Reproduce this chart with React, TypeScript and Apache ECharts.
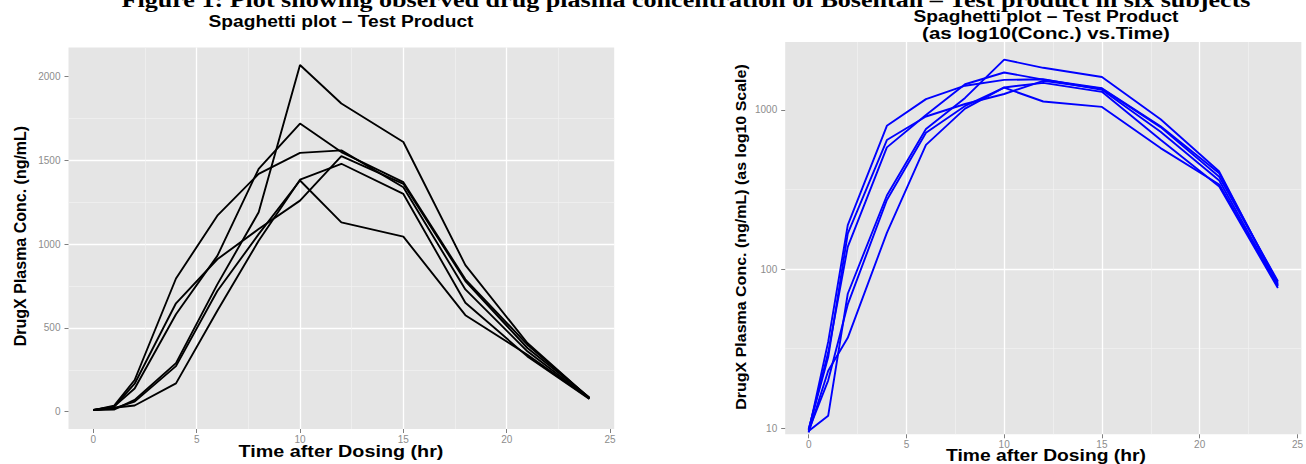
import React, { useEffect, useRef } from "react";
import * as echarts from "echarts";

// ---- Data ----
const times = [0, 1, 2, 4, 6, 8, 10, 12, 15, 18, 21, 24];
const subject1 = [9.6, 12, 70, 290, 760, 1190, 2070, 1840, 1610, 875, 410, 80];
const subject2 = [9.8, 30, 138, 582, 930, 1450, 1720, 1550, 1370, 790, 400, 82];
const subject3 = [9.5, 35, 189, 795, 1170, 1420, 1545, 1560, 1340, 730, 360, 79];
const subject4 = [9.4, 23, 37, 169, 603, 1020, 1385, 1480, 1300, 650, 330, 76];
const subject5 = [9.7, 20, 60, 272, 720, 1060, 1380, 1130, 1045, 576, 340, 78];
const subject6 = [9.9, 28, 167, 647, 910, 1090, 1260, 1525, 1360, 780, 380, 84];
const subjects = [subject1, subject2, subject3, subject4, subject5, subject6];

const xTicks = [0, 5, 10, 15, 20, 25];
const yTicksLinear = [0, 500, 1000, 1500, 2000];
const yTicksLog = [10, 100, 1000];

const captionText =
  "Figure 1: Plot showing observed drug plasma concentration of Bosentan \u2013 Test product in six subjects";
const plotTitle = "Spaghetti plot \u2013 Test Product";
const logSubtitle = "(as log10(Conc.) vs.Time)";
const xTitle = "Time after Dosing (hr)";
const yTitleLinear = "DrugX Plasma Conc. (ng/mL)";
const yTitleLog = "DrugX Plasma Conc. (ng/mL) (as log10 Scale)";

const SANS = "'Liberation Sans', Arial, Helvetica, sans-serif";
const SERIF = "'Liberation Serif', 'Times New Roman', serif";

function measure(text: string, font: string): number {
  const c = document.createElement("canvas").getContext("2d");
  if (!c) return 1;
  c.font = font;
  return c.measureText(text).width || 1;
}

function stretchedText(
  text: string,
  cx: number,
  cy: number,
  size: number,
  family: string,
  targetWidth: number | null,
  rotate = false
) {
  const font = `bold ${size}px ${family}`;
  const w = measure(text, font);
  const sx = targetWidth ? targetWidth / w : 1;
  return {
    type: "text",
    x: cx,
    y: cy,
    rotation: rotate ? Math.PI / 2 : 0,
    scaleX: rotate ? 1 : sx,
    scaleY: rotate ? sx : 1,
    silent: true,
    style: {
      text,
      font,
      fill: "#000000",
      align: "center",
      verticalAlign: "middle",
    },
  };
}

function axisCommon(ticks: number[], isX: boolean, formatter: (v: number) => string) {
  return {
    axisLine: { show: false, onZero: false },
    axisTick: {
      show: true,
      length: 4,
      customValues: ticks,
      lineStyle: { color: "#7F7F7F", width: 1 },
    },
    axisLabel: {
      customValues: ticks,
      color: "#8C8C8C",
      fontSize: 10,
      fontFamily: SANS,
      margin: isX ? 5 : 8,
      formatter,
    },
    splitLine: {
      show: true,
      showMinLine: false,
      showMaxLine: false,
      lineStyle: { color: "#FFFFFF", width: 1.3 },
    },
    minorTick: { show: false, splitNumber: 2 },
    minorSplitLine: { show: true, lineStyle: { color: "#F2F2F2", width: 0.7 } },
  };
}

export default function App() {
  const ref = useRef<HTMLDivElement>(null);

  useEffect(() => {
    if (!ref.current) return;
    const chart = echarts.init(ref.current, undefined, { renderer: "svg" });

    const logTicks = yTicksLog.map((v) => Math.log10(v));
    const plain = (v: number) => String(v);
    const pow10 = (v: number) => String(Math.round(Math.pow(10, v)));

    const option: any = {
      animation: false,
      backgroundColor: "#FFFFFF",
      grid: [
        {
          left: 68.5,
          top: 47.6,
          width: 545.7,
          height: 381.4,
          show: true,
          backgroundColor: "#E5E5E5",
          borderWidth: 0,
        },
        {
          left: 785.2,
          top: 42,
          width: 524,
          height: 392.3,
          show: true,
          backgroundColor: "#E5E5E5",
          borderWidth: 0,
        },
      ],
      xAxis: [
        { type: "value", gridIndex: 0, min: -1.2, max: 25.2, ...axisCommon(xTicks, true, plain) },
        { type: "value", gridIndex: 1, min: -1.2, max: 25.2, ...axisCommon(xTicks, true, plain) },
      ],
      yAxis: [
        {
          type: "value",
          gridIndex: 0,
          min: -103.5,
          max: 2173.5,
          ...axisCommon(yTicksLinear, false, plain),
        },
        {
          type: "value",
          gridIndex: 1,
          min: 0.962,
          max: 3.427,
          splitNumber: 2,
          ...axisCommon(logTicks, false, pow10),
        },
      ],
      series: [
        ...subjects.map((s, k) => ({
          type: "line",
          name: `Subject ${k + 1}`,
          xAxisIndex: 0,
          yAxisIndex: 0,
          data: times.map((t, i) => [t, s[i]]),
          symbol: "none",
          lineStyle: { color: "#000000", width: 1.9 },
          silent: true,
        })),
        ...subjects.map((s, k) => ({
          type: "line",
          name: `Subject ${k + 1} (log)`,
          xAxisIndex: 1,
          yAxisIndex: 1,
          data: times.map((t, i) => [t, Math.log10(s[i])]),
          symbol: "none",
          lineStyle: { color: "#0000FF", width: 1.9 },
          silent: true,
        })),
      ],
      graphic: [
        stretchedText(captionText, 686, -1, 22, SERIF, 1130),
        stretchedText(plotTitle, 341, 22, 16, SANS, 265),
        stretchedText(plotTitle, 1046, 17, 16, SANS, 265),
        stretchedText(logSubtitle, 1046, 33, 16, SANS, 248),
        stretchedText(xTitle, 341, 452, 16, SANS, 205),
        stretchedText(xTitle, 1046, 456, 16, SANS, 200),
        stretchedText(yTitleLinear, 21, 236, 16, SANS, 218, true),
        stretchedText(yTitleLog, 741, 237, 16, SANS, 327, true),
      ],
    };

    chart.setOption(option);
    return () => chart.dispose();
  }, []);

  return (
    <div
      ref={ref}
      style={{
        position: "absolute",
        left: 0,
        top: 0,
        width: 1306,
        height: 464,
        background: "#FFFFFF",
      }}
    />
  );
}
